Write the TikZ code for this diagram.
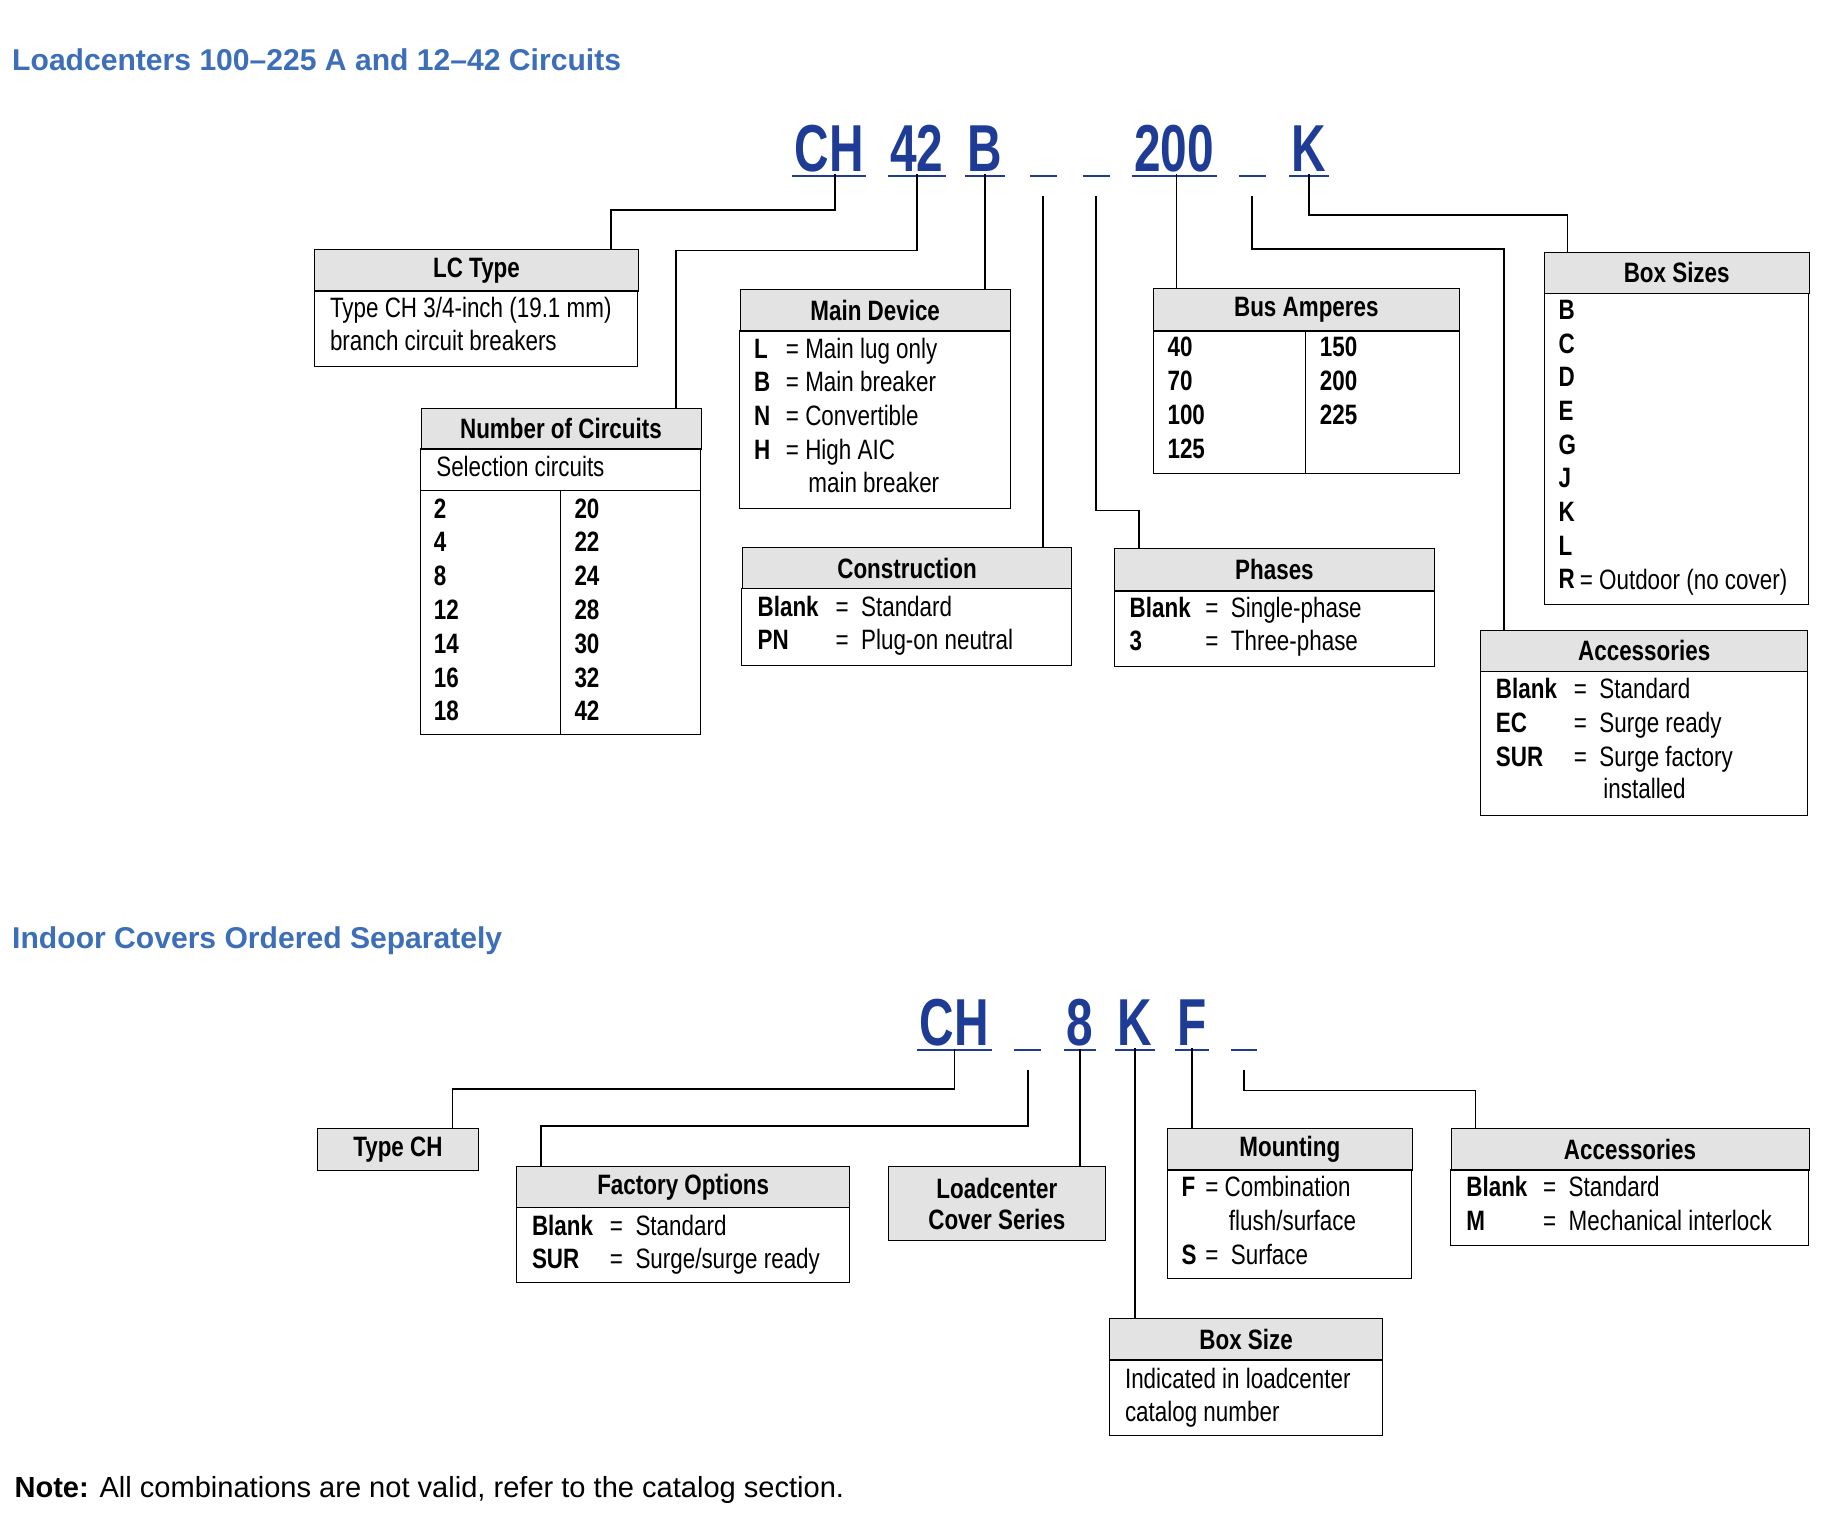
\documentclass[tikz,border=0pt]{standalone}
\usepackage{fontspec}
\setmainfont[FakeStretch=0.8]{Liberation Sans}
\newfontfamily\widefont{Liberation Sans}
\newfontfamily\codefont[FakeStretch=0.72]{Liberation Sans}
\usetikzlibrary{positioning}
\definecolor{titleblue}{RGB}{60,110,185}
\definecolor{codeblue}{RGB}{30,60,150}
\tikzset{hdr/.style={draw, fill=gray!22, anchor=north west, inner sep=0pt, font=\fontsize{13.5}{16}\selectfont\bfseries}}
\tikzset{txt/.style={anchor=base west, inner sep=0pt, font=\fontsize{13.5}{16}\selectfont}}
\tikzset{btxt/.style={txt, font=\fontsize{13.5}{16}\selectfont\bfseries}}
\tikzset{code/.style={anchor=base, inner sep=1pt, text=codeblue, font=\codefont\fontsize{32}{36}\selectfont\bfseries}}
\tikzset{blank/.style={anchor=base, inner sep=1pt, minimum width=22*0.02cm, font=\fontsize{32}{36}\selectfont}}
\tikzset{ttl/.style={anchor=base west, inner sep=0pt, text=titleblue, font=\widefont\fontsize{14.5}{17}\selectfont\bfseries}}
\tikzset{link/.style={line width=0.8pt}}
\begin{document}
\begin{tikzpicture}[x=0.02cm, y=-0.02cm]
\fill[white] (0,0) rectangle (1550,1289);
\useasboundingbox (0,0) rectangle (1550,1289);

% top section
\node[ttl] (t1) at (10,60) {Loadcenters 100\textendash225 A and 12\textendash42 Circuits};
\node[code] (c1) at (702,145) {CH};
\node[code] (c2) at (776,145) {42};
\node[code] (c3) at (834,145) {B};
\node[blank] (c4) at (883,145) {\strut};
\node[blank] (c5) at (928,145) {\strut};
\node[code] (c6) at (994,145) {200};
\node[blank] (c7) at (1060,145) {\strut};
\node[code] (c8) at (1108,145) {K};
\foreach \n in {c1,c2,c3,c4,c5,c6,c7,c8} {\draw[line width=1.2pt, codeblue] ([yshift=-4*0.02cm]\n.base west) -- ([yshift=-4*0.02cm]\n.base east);}

% LC type
\node[hdr, minimum width=274*0.02cm, minimum height=35*0.02cm] (lct) at (266,211) {LC Type};
\draw (266,246) rectangle (540,310);
\node[txt] (lct1) at (279,269) {Type CH 3/4-inch (19.1 mm)};
\node[txt] (lct2) at (279,297) {branch circuit breakers};

% number of circuits
\node[hdr, minimum width=237*0.02cm, minimum height=35*0.02cm] (noc) at (356,345) {Number of Circuits};
\draw (356,380) rectangle (593,622) (356,415) -- (593,415) (474,415) -- (474,622);
\node[txt] (noc0) at (369,403) {Selection circuits};
\foreach \a/\b [count=\i] in {2/20,4/22,8/24,12/28,14/30,16/32,18/42} {
  \node[btxt] (nocl\i) at (367,410+28.6*\i) {\a};
  \node[btxt] (nocr\i) at (486,410+28.6*\i) {\b};
}

% main device
\node[hdr, minimum width=229*0.02cm, minimum height=35*0.02cm] (md) at (626,245) {Main Device};
\draw (626,280) rectangle (855,430);
\foreach \k/\v [count=\i] in {L/Main lug only,B/Main breaker,N/Convertible,H/High AIC} {
  \node[btxt] (mdk\i) at (638,275+28.4*\i) {\k};
  \node[txt] (mdv\i) at (665,275+28.4*\i) {= \v};
}
\node[txt] (mdv5) at (684,417) {main breaker};

% construction
\node[hdr, minimum width=279*0.02cm, minimum height=35*0.02cm] (con) at (628,463) {Construction};
\draw (628,498) rectangle (907,563);
\node[btxt] (con1) at (641,522) {Blank};
\node[txt] (con2) at (707,522) {=\ \ Standard};
\node[btxt] (con3) at (641,550) {PN};
\node[txt] (con4) at (707,550) {=\ \ Plug-on neutral};

% phases
\node[hdr, minimum width=271*0.02cm, minimum height=36*0.02cm] (ph) at (943,464) {Phases};
\draw (943,500) rectangle (1214,564);
\node[btxt] (ph1) at (956,523) {Blank};
\node[txt] (ph2) at (1020,523) {=\ \ Single-phase};
\node[btxt] (ph3) at (956,551) {3};
\node[txt] (ph4) at (1020,551) {=\ \ Three-phase};

% bus amperes
\node[hdr, minimum width=259*0.02cm, minimum height=36*0.02cm] (ba) at (976,244) {Bus Amperes};
\draw (976,280) rectangle (1235,401) (1105,280) -- (1105,401);
\foreach \a [count=\i] in {40,70,100,125} {\node[btxt] (bal\i) at (988,273+28.7*\i) {\a};}
\foreach \a [count=\i] in {150,200,225} {\node[btxt] (bar\i) at (1117,273+28.7*\i) {\a};}

% box sizes
\node[hdr, minimum width=224*0.02cm, minimum height=35*0.02cm] (bs) at (1307,213) {Box Sizes};
\draw (1307,248) rectangle (1531,512);
\foreach \a [count=\i] in {B,C,D,E,G,J,K,L,R} {\node[btxt] (bs\i) at (1319,242+28.5*\i) {\a};}
\node[txt] (bsr) at (1337,499) {= Outdoor (no cover)};

% accessories
\node[hdr, minimum width=277*0.02cm, minimum height=35*0.02cm] (acc) at (1253,533) {Accessories};
\draw (1253,568) rectangle (1530,690);
\foreach \k/\v [count=\i] in {Blank/Standard,EC/Surge ready,SUR/Surge factory} {
  \node[btxt] (acck\i) at (1266,563+28.5*\i) {\k};
  \node[txt] (accv\i) at (1332,563+28.5*\i) {=\ \ \v};
}
\node[txt] (accv4) at (1357,676) {installed};

% links top
\draw[link] (c1.south) ++(5,0) |- (517,178) -- ([xshift=251*0.02cm]lct.north west);
\draw[link] (c2.south) |- (572,212) -- ([xshift=216*0.02cm]noc.north west);
\draw[link] (c3.south) -- (c3.south |- md.north);
\draw[link] (c4.south) -- (c4.south |- con.north);
\draw[link] (c5.south) |- (964,432) -- ([xshift=21*0.02cm]ph.north west);
\draw[link] (c6.south) ++(2,0) -- ([xshift=20*0.02cm]ba.north west);
\draw[link] (c7.south) |- (1273,211) -- ([xshift=20*0.02cm]acc.north west);
\draw[link] (c8.south) |- (1327,182) -- ([xshift=20*0.02cm]bs.north west);

% bottom section
\node[ttl] (t2) at (10,803) {Indoor Covers Ordered Separately};
\node[code] (d1) at (808,885) {CH};
\node[blank] (d2) at (870,885) {\strut};
\node[code] (d3) at (914,885) {8};
\node[code] (d4) at (961,885) {K};
\node[code] (d5) at (1009,885) {F};
\node[blank] (d6) at (1053,885) {\strut};
\foreach \n in {d1,d2,d3,d4,d5,d6} {\draw[line width=1.2pt, codeblue] ([yshift=-4*0.02cm]\n.base west) -- ([yshift=-4*0.02cm]\n.base east);}

\node[hdr, minimum width=137*0.02cm, minimum height=35*0.02cm] (tch) at (268,955) {Type CH};

\node[hdr, minimum width=282*0.02cm, minimum height=35*0.02cm] (fo) at (437,987) {Factory Options};
\draw (437,1022) rectangle (719,1086);
\node[btxt] (fo1) at (450,1046) {Blank};
\node[txt] (fo2) at (516,1046) {=\ \ Standard};
\node[btxt] (fo3) at (450,1074) {SUR};
\node[txt] (fo4) at (516,1074) {=\ \ Surge/surge ready};

\node[hdr, minimum width=183*0.02cm, minimum height=63*0.02cm, align=center] (lcs) at (752,987) {Loadcenter\\[-1pt]Cover Series};

\node[hdr, minimum width=207*0.02cm, minimum height=35*0.02cm] (mnt) at (988,955) {Mounting};
\draw (988,990) rectangle (1195,1082);
\node[btxt] (mnt1) at (1000,1013) {F};
\node[txt] (mnt2) at (1020,1013) {= Combination};
\node[txt] (mnt3) at (1040,1042) {flush/surface};
\node[btxt] (mnt4) at (1000,1070) {S};
\node[txt] (mnt5) at (1020,1070) {=\ \ Surface};

\node[hdr, minimum width=231*0.02cm, minimum height=35*0.02cm] (bsz) at (939,1116) {Box Size};
\draw (939,1151) rectangle (1170,1215);
\node[txt] (bsz1) at (952,1175) {Indicated in loadcenter};
\node[txt] (bsz2) at (952,1203) {catalog number};

\node[hdr, minimum width=303*0.02cm, minimum height=35*0.02cm] (acc2) at (1228,955) {Accessories};
\draw (1228,990) rectangle (1531,1054);
\node[btxt] (acc21) at (1241,1013) {Blank};
\node[txt] (acc22) at (1306,1013) {=\ \ Standard};
\node[btxt] (acc23) at (1241,1042) {M};
\node[txt] (acc24) at (1306,1042) {=\ \ Mechanical interlock};

% links bottom
\draw[link] (d1.south) |- (383,922) -- ([xshift=115*0.02cm]tch.north west);
\draw[link] (d2.south) |- (458,953) -- ([xshift=21*0.02cm]fo.north west);
\draw[link] (d3.south) -- ([xshift=162*0.02cm]lcs.north west);
\draw[link] (d4.south) -- ([xshift=22*0.02cm]bsz.north west);
\draw[link] (d5.south) -- ([xshift=21*0.02cm]mnt.north west);
\draw[link] (d6.south) |- (1249,923) -- ([xshift=21*0.02cm]acc2.north west);

\node[anchor=base west, inner sep=0pt, font=\widefont\fontsize{14}{17}\selectfont] (note) at (12,1268) {\textbf{Note:} All combinations are not valid, refer to the catalog section.};
\end{tikzpicture}
\end{document}
